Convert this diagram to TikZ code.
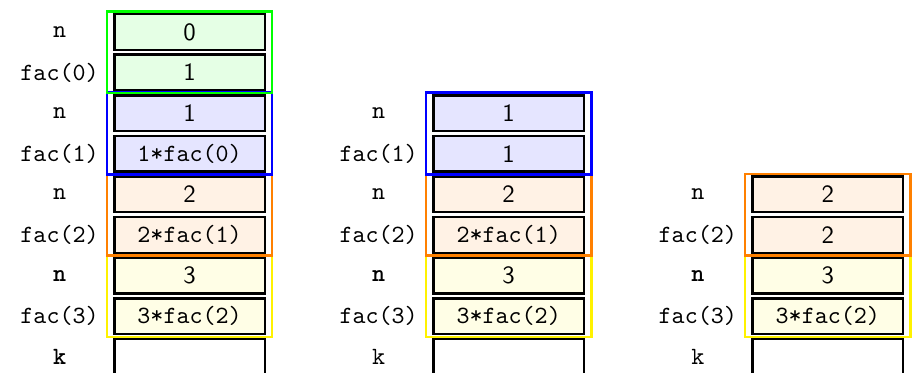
\documentclass[tikz,border=0pt]{standalone}
\usepackage{tikz}
\usetikzlibrary{positioning, fit}

\begin{document}
\begin{tikzpicture}[
    cell/.style={draw, line width=1pt, fill=#1!10, minimum width=2.13cm, minimum height=0.505cm, inner sep=0pt, font=\sffamily},
    lbl/.style={font=\ttfamily, text width=1.2cm, align=center, inner sep=3.33pt},
    stackbox/.style={draw=#1, line width=1pt, inner xsep=2.5pt, inner ysep=0.6pt},
    node distance=1pt]
    \useasboundingbox (0,0) rectangle (12.96cm,-5.27cm);
    \clip (0,0) rectangle (12.96cm,-5.27cm);

    % 第一列
    \node[cell=green] (a0) at (2.685cm,-0.452cm) {0};
    \node[cell=green, below=of a0] (a1) {1};
    \node[cell=blue, below=of a1] (a2) {1};
    \node[cell=blue, below=of a2] (a3) {\texttt{1*fac(0)}};
    \node[cell=orange, below=of a3] (a4) {2};
    \node[cell=orange, below=of a4] (a5) {\texttt{2*fac(1)}};
    \node[cell=yellow, below=of a5] (a6) {3};
    \node[cell=yellow, below=of a6] (a7) {\texttt{3*fac(2)}};
    \node[cell=white, below=of a7] (a8) {};
    \node[lbl, left=of a0] (la0) {n};
    \node[lbl, left=of a1] (la1) {fac(0)};
    \node[lbl, left=of a2] (la2) {n};
    \node[lbl, left=of a3] (la3) {fac(1)};
    \node[lbl, left=of a4] (la4) {n};
    \node[lbl, left=of a5] (la5) {fac(2)};
    \node[lbl, left=of a6] (la6) {\textbf{n}};
    \node[lbl, left=of a7] (la7) {fac(3)};
    \node[lbl, left=of a8] (la8) {\textbf{k}};
    \node[stackbox=yellow, fit=(a6)(a7)] (fa3) {};
    \node[stackbox=orange, fit=(a4)(a5)] (fa2) {};
    \node[stackbox=blue, fit=(a2)(a3)] (fa1) {};
    \node[stackbox=green, fit=(a0)(a1)] (fa0) {};

    % 第二列
    \node[cell=blue, xshift=4.52cm] (b0) at (a2) {1};
    \node[cell=blue, below=of b0] (b1) {1};
    \node[cell=orange, below=of b1] (b2) {2};
    \node[cell=orange, below=of b2] (b3) {\texttt{2*fac(1)}};
    \node[cell=yellow, below=of b3] (b4) {3};
    \node[cell=yellow, below=of b4] (b5) {\texttt{3*fac(2)}};
    \node[cell=white, below=of b5] (b6) {};
    \node[lbl, left=of b0] (lb0) {n};
    \node[lbl, left=of b1] (lb1) {fac(1)};
    \node[lbl, left=of b2] (lb2) {n};
    \node[lbl, left=of b3] (lb3) {fac(2)};
    \node[lbl, left=of b4] (lb4) {\textbf{n}};
    \node[lbl, left=of b5] (lb5) {fac(3)};
    \node[lbl, left=of b6] (lb6) {k};
    \node[stackbox=yellow, fit=(b4)(b5)] (fb3) {};
    \node[stackbox=orange, fit=(b2)(b3)] (fb2) {};
    \node[stackbox=blue, fit=(b0)(b1)] (fb1) {};

    % 第三列
    \node[cell=orange, xshift=4.52cm] (c0) at (b2) {2};
    \node[cell=orange, below=of c0] (c1) {2};
    \node[cell=yellow, below=of c1] (c2) {3};
    \node[cell=yellow, below=of c2] (c3) {\texttt{3*fac(2)}};
    \node[cell=white, below=of c3] (c4) {};
    \node[lbl, left=of c0] (lc0) {n};
    \node[lbl, left=of c1] (lc1) {fac(2)};
    \node[lbl, left=of c2] (lc2) {\textbf{n}};
    \node[lbl, left=of c3] (lc3) {fac(3)};
    \node[lbl, left=of c4] (lc4) {k};
    \node[stackbox=yellow, fit=(c2)(c3)] (fc3) {};
    \node[stackbox=orange, fit=(c0)(c1)] (fc2) {};
\end{tikzpicture}
\end{document}
